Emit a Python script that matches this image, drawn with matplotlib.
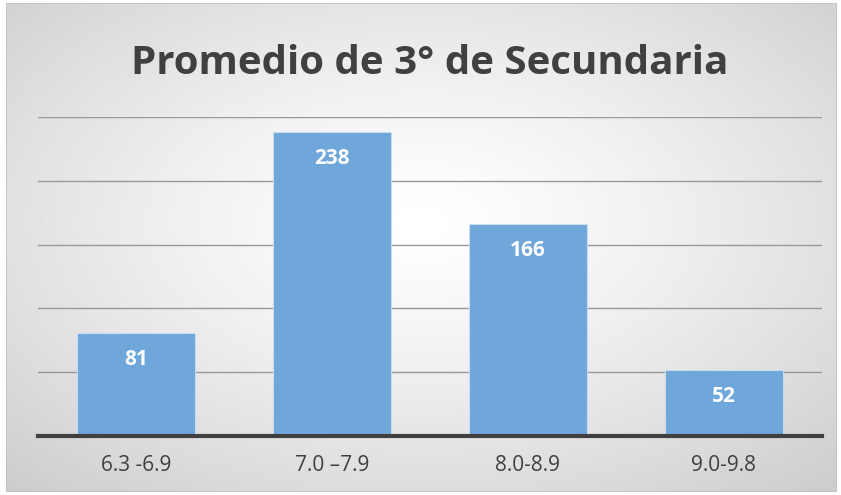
import matplotlib
matplotlib.use("Agg")
import matplotlib.pyplot as plt
import numpy as np
from matplotlib.patches import Rectangle

# --- data ---
categories = ["6.3 -6.9", "7.0 \u20137.9", "8.0-8.9", "9.0-9.8"]
counts = [81, 238, 166, 52]
title = "Promedio de 3\u00b0 de Secundaria"
# ------------

W, H = 841, 495
fig = plt.figure(figsize=(W / 100, H / 100), dpi=100)
fig.patch.set_facecolor("white")

# background panel with radial gradient
bg = fig.add_axes([6 / W, 3 / H, 831 / W, 489 / H])
bg.set_axis_off()
yy, xx = np.mgrid[0:1:300j, 0:1:500j]
r = np.sqrt(((xx - 0.5) / 0.75) ** 2 + ((yy - 0.45) / 0.75) ** 2)
r = np.clip(r / r.max(), 0, 1)
shade = 1.0 - 0.2 * r ** 1.3
bg.imshow(shade, cmap="gray", vmin=0, vmax=1, aspect="auto", extent=[0, 1, 0, 1], origin="upper")
bg.add_patch(Rectangle((0, 0), 1, 1, transform=bg.transAxes, fill=False, edgecolor="#bfbfbf", lw=1.2))
bg.set_xlim(0, 1)
bg.set_ylim(0, 1)

ax = fig.add_axes([38 / W, 59 / H, 784 / W, 319 / H])
ax.set_facecolor("none")
x = np.arange(len(categories))
bars = ax.bar(x, counts, width=0.6, color="#6fa7da", edgecolor="#c9ddef", linewidth=0.8, zorder=3)
ax.set_xlim(-0.5, len(categories) - 0.5)
ax.set_ylim(0, 250)
ax.set_yticks(np.arange(50, 251, 50))
ax.yaxis.grid(True, color="#999999", lw=1.0, zorder=0)
ax.tick_params(axis="y", left=False, labelleft=False)
ax.tick_params(axis="x", length=0, pad=14, labelsize=15, labelcolor="#404040")
ax.set_xticks(x)
ax.set_xticklabels(categories, fontfamily="Open Sans")
for s in ["top", "right", "left"]:
    ax.spines[s].set_visible(False)
ax.spines["bottom"].set_color("#404040")
ax.spines["bottom"].set_linewidth(3)
ax.spines["bottom"].set_zorder(4)

for b, v in zip(bars, counts):
    ax.annotate(str(v), (b.get_x() + b.get_width() / 2, v), xytext=(0, -19),
                textcoords="offset points", ha="center", va="center",
                color="white", fontsize=15, fontweight="bold", fontfamily="Open Sans", zorder=5)

fig.text(430 / W, 1 - 74 / H, title, ha="center", va="baseline", fontsize=29,
         fontweight="bold", color="#404040", fontfamily="Open Sans")

fig.savefig("out.png", dpi=100)
